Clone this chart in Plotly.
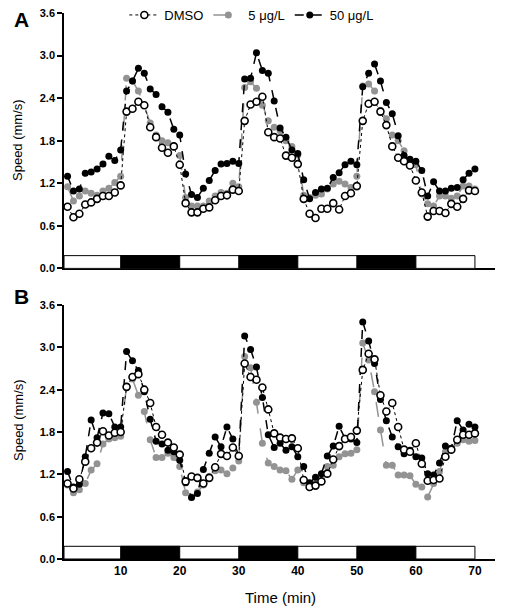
import plotly.graph_objects as go

minutes = list(range(1, 71))

# Panel A
a_dmso = [0.87, 0.72, 0.77, 0.90, 0.93, 0.98, 1.02, 1.02, 1.07, 1.17,
          2.21, 2.25, 2.35, 2.30, 1.99, 1.85, 1.70, 1.63, 1.72, 1.46,
          0.92, 0.79, 0.79, 0.84, 0.86, 0.96, 1.02, 1.03, 1.11, 1.09,
          2.08, 2.31, 2.35, 2.42, 1.92, 1.85, 1.83, 1.59, 1.56, 1.47,
          0.98, 0.77, 0.71, 0.84, 0.84, 0.92, 0.83, 1.02, 1.06, 1.16,
          2.08, 2.32, 2.35, 2.21, 2.02, 1.72, 1.56, 1.51, 1.45, 1.24,
          1.07, 0.73, 0.81, 0.81, 0.78, 0.91, 0.87, 0.98, 1.10, 1.09]
a_5 = [1.15, 0.95, 1.02, 1.09, 1.06, 1.03, 1.09, 1.13, 1.21, 1.30,
       2.68, 2.64, 2.50, 2.30, 2.05, 1.88, 1.80, 1.77, 1.73, 1.59,
       1.00, 0.88, 0.88, 0.88, 0.95, 1.02, 1.07, 1.06, 1.20, 1.15,
       2.55, 2.63, 2.54, 2.30, 2.08, 1.99, 1.94, 1.80, 1.72, 1.60,
       1.03, 1.00, 1.03, 1.05, 1.12, 1.19, 1.23, 1.19, 1.14, 1.30,
       2.57, 2.60, 2.50, 2.23, 2.11, 1.88, 1.80, 1.66, 1.52, 1.46,
       1.05, 0.91, 0.88, 1.02, 1.02, 0.99, 1.02, 1.16, 1.16, 1.12]
a_50 = [1.30, 1.09, 1.12, 1.34, 1.36, 1.40, 1.47, 1.58, 1.52, 1.67,
        2.50, 2.64, 2.82, 2.75, 2.53, 2.45, 2.28, 2.20, 1.96, 1.88,
        1.33, 1.04, 1.00, 1.13, 1.24, 1.38, 1.47, 1.48, 1.51, 1.48,
        2.67, 2.68, 3.04, 2.79, 2.75, 2.36, 1.98, 1.85, 1.67, 1.62,
        1.25, 0.98, 1.07, 1.12, 1.13, 1.28, 1.35, 1.46, 1.51, 1.46,
        2.56, 2.75, 2.88, 2.64, 2.34, 2.18, 1.87, 1.59, 1.54, 1.51,
        1.38, 1.02, 1.22, 1.09, 1.09, 1.13, 1.14, 1.25, 1.34, 1.40]

# Panel B
b_dmso = [1.07, 1.00, 1.13, 1.38, 1.57, 1.65, 1.81, 1.75, 1.79, 1.80,
          2.44, 2.58, 2.62, 2.40, 2.21, 1.87, 1.76, 1.65, 1.58, 1.48,
          1.10, 1.17, 1.15, 1.07, 1.15, 1.30, 1.49, 1.46, 1.58, 1.46,
          2.77, 2.58, 2.54, 2.43, 2.12, 1.78, 1.72, 1.70, 1.71, 1.57,
          1.12, 1.02, 1.04, 1.10, 1.21, 1.41, 1.60, 1.70, 1.73, 1.82,
          2.68, 2.91, 2.83, 2.32, 2.09, 2.21, 1.87, 1.55, 1.52, 1.64,
          1.35, 1.11, 1.12, 1.14, 1.45, 1.55, 1.69, 1.76, 1.76, 1.78]
b_5 = [1.05, 0.94, 0.98, 1.07, 1.26, 1.35, 1.63, 1.70, 1.72, 1.74,
       2.45, 2.55, 2.32, 2.09, 1.69, 1.44, 1.44, 1.50, 1.44, 1.31,
       0.94, 0.88, 0.95, 1.05, 1.17, 1.25, 1.26, 1.21, 1.29, 1.39,
       2.87, 2.71, 2.22, 1.64, 1.36, 1.31, 1.26, 1.25, 1.13, 1.26,
       1.08, 1.02, 1.07, 1.10, 1.31, 1.33, 1.45, 1.49, 1.50, 1.55,
       3.06, 2.82, 2.37, 1.83, 1.33, 1.33, 1.19, 1.19, 1.18, 1.06,
       1.02, 0.88, 1.07, 1.24, 1.52, 1.56, 1.64, 1.69, 1.67, 1.68]
b_50 = [1.24, 1.02, 1.06, 1.45, 1.97, 1.72, 2.07, 2.06, 1.87, 1.87,
        2.94, 2.81, 2.67, 2.37, 1.98, 1.67, 1.63, 1.54, 1.52, 1.40,
        1.08, 0.87, 0.93, 1.27, 1.50, 1.73, 1.59, 1.87, 1.70, 1.46,
        3.16, 2.97, 2.72, 2.29, 1.76, 1.58, 1.64, 1.54, 1.59, 1.45,
        1.31, 1.08, 1.16, 1.21, 1.46, 1.60, 1.88, 1.71, 1.70, 1.65,
        3.36, 3.09, 2.77, 2.26, 1.96, 1.73, 1.59, 1.49, 1.54, 1.45,
        1.43, 1.21, 1.19, 1.36, 1.60, 1.57, 1.96, 1.83, 1.91, 1.87]

series_names = ["DMSO", "5 \u03bcg/L", "50 \u03bcg/L"]
y_ticks = [0.0, 0.6, 1.2, 1.8, 2.4, 3.0, 3.6]
y_tick_labels = ["0.0", "0.6", "1.2", "1.8", "2.4", "3.0", "3.6"]
x_ticks = [10, 20, 30, 40, 50, 60, 70]
x_tick_labels = ["10", "20", "30", "40", "50", "60", "70"]

# light/dark schedule (minutes)
dark_start = [10, 30, 50]
dark_end = [20, 40, 60]
schedule_start = 0.4
schedule_end = 70
bar_height = 0.18

X_RANGE = [0.4, 73.4]

fig = go.Figure()

styles = {
    "DMSO": dict(line=dict(color="black", width=1, dash="dot"),
                 marker=dict(symbol="circle", size=7, color="white",
                             line=dict(color="black", width=1.6))),
    "5": dict(line=dict(color="#939393", width=1.5, dash="longdash"),
              marker=dict(symbol="circle", size=7, color="#939393",
                          line=dict(color="#939393", width=0))),
    "50": dict(line=dict(color="black", width=1.5, dash="dash"),
               marker=dict(symbol="circle", size=7, color="black",
                           line=dict(color="black", width=0))),
}

panels = [("x", "y", a_dmso, a_5, a_50, True), ("x2", "y2", b_dmso, b_5, b_50, False)]
for xa, ya, d0, d5, d50, show in panels:
    for key, name, vals, rank in [("5", series_names[1], d5, 2),
                                  ("50", series_names[2], d50, 3),
                                  ("DMSO", series_names[0], d0, 1)]:
        fig.add_trace(go.Scatter(
            x=minutes, y=vals, mode="lines+markers", name=name,
            xaxis=xa, yaxis=ya, showlegend=show, legendrank=rank,
            line=styles[key]["line"], marker=styles[key]["marker"],
        ))

shapes = []
for xr, yr in [("x", "y"), ("x2", "y2")]:
    shapes.append(dict(type="rect", xref=xr, yref=yr, x0=schedule_start, x1=schedule_end,
                       y0=0, y1=bar_height, line=dict(color="black", width=1),
                       fillcolor="white"))
    for s, e in zip(dark_start, dark_end):
        shapes.append(dict(type="rect", xref=xr, yref=yr, x0=s, x1=e,
                           y0=0, y1=bar_height, line=dict(color="black", width=1),
                           fillcolor="black"))

tickfont = dict(family="Arial, Liberation Sans", size=11, color="black", weight="bold")
yax = dict(range=[0, 3.6], tickvals=y_ticks, ticktext=y_tick_labels, showline=True,
           linecolor="black", linewidth=1.5, ticks="outside", ticklen=5, tickwidth=1.5,
           tickcolor="black", showgrid=False, zeroline=False, tickfont=tickfont)
xax = dict(range=X_RANGE, showline=True, linecolor="black", linewidth=1.5,
           showgrid=False, zeroline=False, ticks="", tickfont=dict(
               family="Arial, Liberation Sans", size=12, color="black", weight="bold"))

H_TOP, H_BOT = 13, 53
PH = 612 - H_TOP - H_BOT

def py(pix):
    return (612 - H_BOT - pix) / PH

fig.update_layout(
    width=505, height=612,
    margin=dict(l=64, r=10, t=H_TOP, b=H_BOT, autoexpand=False),
    paper_bgcolor="white", plot_bgcolor="white",
    font=dict(family="Arial, Liberation Sans", color="black"),
    xaxis=dict(**xax, domain=[0, 1], anchor="y", showticklabels=False),
    yaxis=dict(**yax, domain=[py(268.4), 1], anchor="x"),
    xaxis2=dict(**xax, domain=[0, 1], anchor="y2", tickvals=x_ticks, ticktext=x_tick_labels),
    yaxis2=dict(**yax, domain=[0, py(305)], anchor="x2"),
    shapes=shapes,
    showlegend=True,
    legend=dict(orientation="h", x=0.14, xanchor="left", y=py(15), yanchor="middle",
                font=dict(size=13, family="Arial, Liberation Sans"),
                bgcolor="rgba(0,0,0,0)", itemwidth=30, tracegroupgap=0),
    annotations=[
        dict(text="<b>A</b>", x=(21 - 64) / 431, y=py(20), xref="paper", yref="paper",
             showarrow=False, font=dict(size=21), xanchor="center", yanchor="middle"),
        dict(text="<b>B</b>", x=(21 - 64) / 431, y=py(297), xref="paper", yref="paper",
             showarrow=False, font=dict(size=21), xanchor="center", yanchor="middle"),
        dict(text="Speed (mm/s)", x=(18 - 64) / 431, y=py(140), xref="paper", yref="paper",
             showarrow=False, textangle=-90, font=dict(size=13), xanchor="center", yanchor="middle"),
        dict(text="Speed (mm/s)", x=(18 - 64) / 431, y=py(420), xref="paper", yref="paper",
             showarrow=False, textangle=-90, font=dict(size=13), xanchor="center", yanchor="middle"),
        dict(text="Time (min)", x=(280 - 64) / 431, y=py(597), xref="paper", yref="paper",
             showarrow=False, font=dict(size=15), xanchor="center", yanchor="middle"),
    ],
)

fig.write_html("out.html", config={"displayModeBar": False},
               post_script="document.body.style.margin='0';")
